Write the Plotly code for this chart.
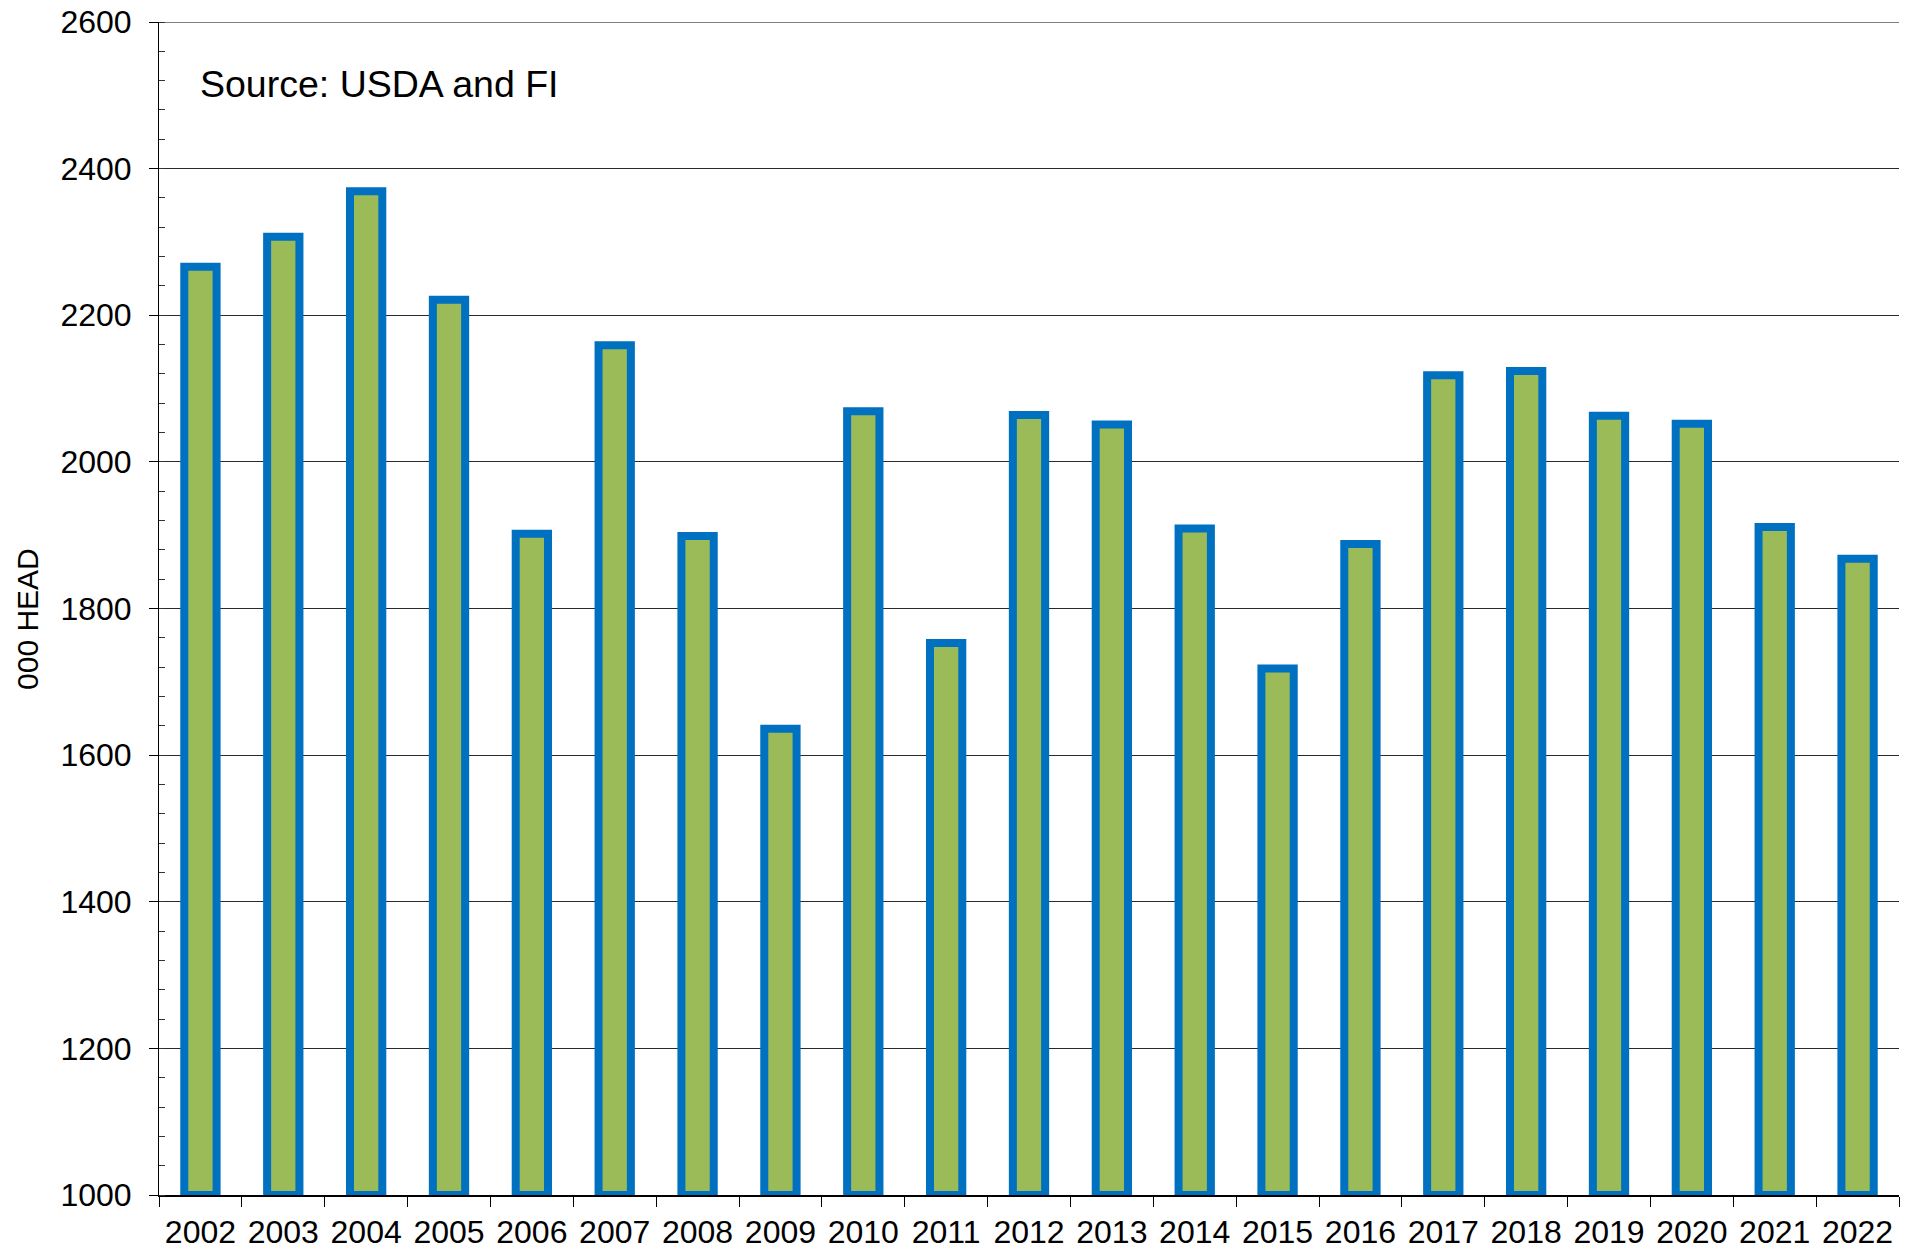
import plotly.graph_objects as go

years = [str(y) for y in range(2002, 2023)]
head_000 = [2266, 2307, 2369, 2221, 1902, 2159, 1899, 1636, 2069, 1753,
            2064, 2051, 1909, 1718, 1888, 2118, 2124, 2063, 2052, 1911, 1868]
y_ticks = [1000, 1200, 1400, 1600, 1800, 2000, 2200, 2400, 2600]
BASE = 1000

FONT = "Arial, Liberation Sans, sans-serif"

fig = go.Figure()
fig.add_trace(go.Bar(
    x=years,
    y=[v - BASE for v in head_000],
    base=BASE,
    marker=dict(color="#9BBB59", line=dict(color="#0070C0", width=8)),
    width=0.39,
    customdata=head_000,
    hovertemplate="%{x}: %{customdata}<extra></extra>",
))

fig.update_layout(
    width=1917, height=1257,
    margin=dict(l=159, r=18, t=22, b=62),
    paper_bgcolor="white", plot_bgcolor="white",
    showlegend=False,
    font=dict(family=FONT, size=32, color="black"),
    xaxis=dict(
        type="category",
        automargin=False,
        showline=True, linecolor="black", linewidth=1.5,
        ticks="outside", ticklen=10, tickcolor="black", tickwidth=1,
        tickson="boundaries",
        showgrid=False,
        tickfont=dict(family=FONT, size=32, color="black"),
        ticklabelstandoff=8,
        ticklabeloverflow="allow",
    ),
    yaxis=dict(
        range=[1000, 2600],
        tickvals=y_ticks,
        automargin=False,
        showline=True, linecolor="black", linewidth=1,
        ticks="outside", ticklen=9, tickcolor="black", tickwidth=1,
        showgrid=True, gridcolor="#2a2a2a", gridwidth=1,
        minor=dict(dtick=40, ticks="inside", ticklen=6, tickcolor="#333333", tickwidth=1, showgrid=False),
        tickfont=dict(family=FONT, size=32, color="black"),
        ticklabelstandoff=11,
        ticklabeloverflow="allow",
        zeroline=False,
    ),
    shapes=[
        dict(type="line", xref="paper", yref="y", x0=0, x1=1,
             y0=y_ticks[-1], y1=y_ticks[-1], line=dict(color="#555555", width=1.5), layer="below"),
    ],
    annotations=[
        dict(text="Source: USDA and FI", xref="paper", yref="paper",
             x=0.0224, y=0.947, xanchor="left", yanchor="middle",
             showarrow=False, font=dict(family=FONT, size=37.5, color="black")),
        dict(text="000 HEAD", xref="paper", yref="paper",
             x=-0.0759, y=0.491, xanchor="center", yanchor="middle",
             textangle=-90, showarrow=False,
             font=dict(family=FONT, size=30, color="black")),
    ],
)

fig.write_html("out.html",
               config={"displayModeBar": False},
               post_script="document.body.style.margin='0';document.body.style.overflow='hidden';")
